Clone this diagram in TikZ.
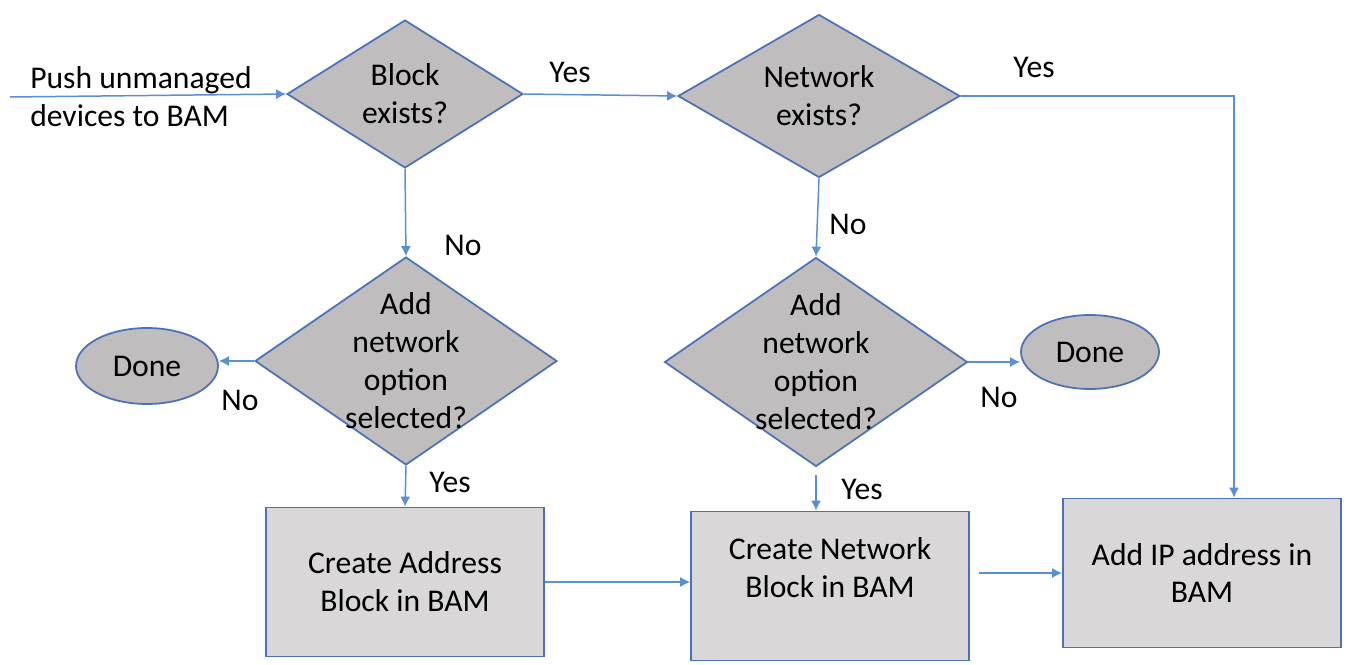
\documentclass[tikz,border=0pt]{standalone}
\usepackage{fontspec}
\setmainfont{Carlito}
\usetikzlibrary{shapes.geometric,arrows.meta,calc,positioning}

\definecolor{outline}{RGB}{74,114,184}
\definecolor{wire}{RGB}{90,143,212}
\definecolor{diafill}{RGB}{191,189,189}
\definecolor{boxfill}{RGB}{217,215,215}

\tikzset{
  txt/.style={font=\fontsize{18}{21.6}\selectfont, align=center, inner sep=0pt},
  decision/.style={diamond, draw=outline, fill=diafill, line width=1pt, inner sep=0pt},
  stop/.style={ellipse, draw=outline, fill=diafill, line width=1pt, inner sep=0pt, txt},
  action/.style={rectangle, draw=outline, fill=boxfill, line width=1pt, minimum width=5.56cm, minimum height=2.98cm, txt}
}

\begin{document}
\begin{tikzpicture}[x=0.02cm, y=-0.02cm, ->, >={Latex[length=2mm,width=2mm]}]
\useasboundingbox (0,0) rectangle (1346,665);

% decisions
\node[decision, minimum width=4.72cm, minimum height=2.96cm, label={[txt]center:Block\\exists?}] (blk) at (405,94) {};
\node[decision, minimum width=5.64cm, minimum height=3.26cm, label={[txt]center:Network\\exists?}] (net) at (819,96) {};
\node[decision, minimum width=6.04cm, minimum height=4.16cm, label={[txt]center:Add\\network\\option\\selected?}] (opt1) at (406,361) {};
\node[decision, minimum width=6.06cm, minimum height=4.18cm, label={[txt]center:Add\\network\\option\\selected?}] (opt2) at (816,362) {};

% end states
\node[stop, minimum width=2.84cm, minimum height=1.52cm] (done1) at (147,366) {Done};
\node[stop, minimum width=2.76cm, minimum height=1.48cm] (done2) at (1090,352) {Done};

% actions
\node[action] (addr) at (405,582) {Create Address\\Block in BAM};
\node[action, label={[txt, yshift=0.36cm]center:Create Network\\Block in BAM}] (netblk) at (830,586) {};
\node[action] (ip) at (1202,573) {Add IP address in\\BAM};

% start
\coordinate (start) at (10,97);
\node[txt, align=left] (push) at (141,97) {Push unmanaged\\devices to BAM};

\path[every edge/.style={draw=wire, line width=0.85pt}]
  (start) edge (blk.west)
  (blk.east) edge (net.west)
  (blk.south) edge (opt1.north)
  (net.south) edge (opt2.north)
  (opt1.west) edge (opt1.west -| done1.east)
  (opt2.east) edge (opt2.east -| done2.west)
  (opt1.south) edge (addr.north)
  ([yshift=-0.16cm]opt2.south) edge (opt2.south |- netblk.north)
  (addr.east) edge (addr.east -| netblk.west)
  ([xshift=0.18cm]ip.west -| netblk.east) edge (ip.west)
;
\draw[wire, line width=0.85pt] (net.east) -| ([xshift=0.64cm]ip.north);

% labels
\node[txt] (yes1) at (570,72) {Yes};
\node[txt] (yes2) at (1034,67) {Yes};
\node[txt] (no1) at (463,245) {No};
\node[txt] (no2) at (848,224) {No};
\node[txt] (no3) at (240,400) {No};
\node[txt] (no4) at (999,397) {No};
\node[txt] (yes3) at (450,482) {Yes};
\node[txt] (yes4) at (862,489) {Yes};
\end{tikzpicture}
\end{document}
